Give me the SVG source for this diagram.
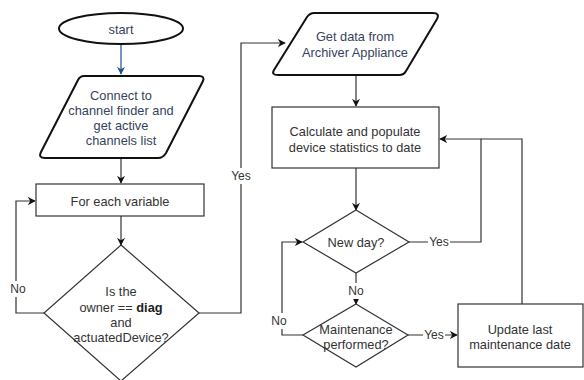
<svg xmlns="http://www.w3.org/2000/svg" width="584" height="380" viewBox="0 0 584 380">
<defs>
<marker id="ah" viewBox="0 0 10 10" refX="9" refY="5" markerWidth="8" markerHeight="8" markerUnits="userSpaceOnUse" orient="auto"><path d="M0,0 L10,5 L0,10 L3,5 z" fill="#111"/></marker>
<marker id="ahb" viewBox="0 0 10 10" refX="9" refY="5" markerWidth="8" markerHeight="8" markerUnits="userSpaceOnUse" orient="auto"><path d="M0,0 L10,5 L0,10 L3,5 z" fill="#1f4e8c"/></marker>
<style>
text{font-family:"Liberation Sans",Arial,sans-serif;font-size:12.8px;fill:#333;text-anchor:middle;dominant-baseline:central}
.io text,.term text{fill:#34435e}
.box{fill:#fff;stroke:#333;stroke-width:1.2}
.bold{stroke:#111;stroke-width:2;fill:#fff;stroke-linejoin:round}
.c{fill:none;stroke:#333;stroke-width:1.2}
.lbl{fill:#fff}
.sm{font-size:12px}
</style>
</defs>
<rect width="584" height="380" fill="#fff"/>
<g id="connectors">
<path class="c" d="M121,44 V74" style="stroke:#1f4e8c" marker-end="url(#ahb)"/>
<path class="c" d="M121,158 V183" marker-end="url(#ah)"/>
<path class="c" d="M121,216 V245" marker-end="url(#ah)"/>
<path class="c" d="M44,313 H16 V201 H35" marker-end="url(#ah)"/>
<path class="c" d="M199,313 H241 V43 H285" marker-end="url(#ah)"/>
<path class="c" d="M356,75 V106" marker-end="url(#ah)"/>
<path class="c" d="M356,168 V210" marker-end="url(#ah)"/>
<path class="c" d="M409,242 H481 V139 H440" marker-end="url(#ah)"/>
<path class="c" d="M522,304 V139 H481"/>
<path class="c" d="M356,273 V304" marker-end="url(#ah)"/>
<path class="c" d="M303,335 H282 V242 H302" marker-end="url(#ah)"/>
<path class="c" d="M408,335 H457" marker-end="url(#ah)"/>
<rect class="lbl" x="9" y="281" width="18" height="16"/>
<text class="sm" x="18" y="289">No</text>
<rect class="lbl" x="231" y="168" width="21" height="16"/>
<text class="sm" x="241" y="176">Yes</text>
<rect class="lbl" x="428" y="234" width="22" height="16"/>
<text class="sm" x="439" y="242">Yes</text>
<rect class="lbl" x="347" y="283" width="18" height="16"/>
<text class="sm" x="356" y="291">No</text>
<rect class="lbl" x="270" y="313" width="18" height="16"/>
<text class="sm" x="279" y="321">No</text>
<rect class="lbl" x="423" y="327" width="22" height="16"/>
<text class="sm" x="434" y="335">Yes</text>
</g>
<g id="start" class="term">
<ellipse class="bold" cx="121" cy="28.5" rx="62" ry="15.5"/>
<text x="121" y="29">start</text>
</g>
<g id="connect" class="io">
<path class="bold" d="M84,76 H199 Q205,76 203,81 L166,153 Q163,158 158,158 H45 Q38,158 41,152 L78,80 Q80,76 84,76 z"/>
<text x="121" y="95">Connect to</text>
<text x="121" y="110">channel finder and</text>
<text x="121" y="125">get active</text>
<text x="121" y="140">channels list</text>
</g>
<g id="foreach">
<rect class="box" x="36" y="184" width="168" height="32"/>
<text x="120" y="201">For each variable</text>
</g>
<g id="check">
<path class="box" d="M121,245 L199,313 L121,381 L44,313 z"/>
<text x="121" y="291">Is the</text>
<text x="121" y="307">owner == <tspan font-weight="bold" fill="#222">diag</tspan></text>
<text x="121" y="322">and</text>
<text x="121" y="337">actuatedDevice?</text>
</g>
<g id="getdata" class="io">
<path class="bold" d="M314,13 H433 Q440,13 437,19 L406,71 Q404,75 399,75 H278 Q271,75 274,70 L307,17 Q310,13 314,13 z"/>
<text x="355" y="36">Get data from</text>
<text x="355" y="52">Archiver Appliance</text>
</g>
<g id="calc">
<rect class="box" x="272" y="107" width="167" height="61"/>
<text x="355" y="131">Calculate and populate</text>
<text x="355" y="147">device statistics to date</text>
</g>
<g id="newday">
<path class="box" d="M356,210 L409,242 L356,273 L303,242 z"/>
<text x="356" y="242">New day?</text>
</g>
<g id="maint">
<path class="box" d="M356,304 L408,335 L356,367 L303,335 z"/>
<text x="356" y="329">Maintenance</text>
<text x="356" y="344">performed?</text>
</g>
<g id="update">
<rect class="box" x="458" y="304" width="125" height="63"/>
<text x="520" y="329">Update last</text>
<text x="520" y="344">maintenance date</text>
</g>
</svg>
